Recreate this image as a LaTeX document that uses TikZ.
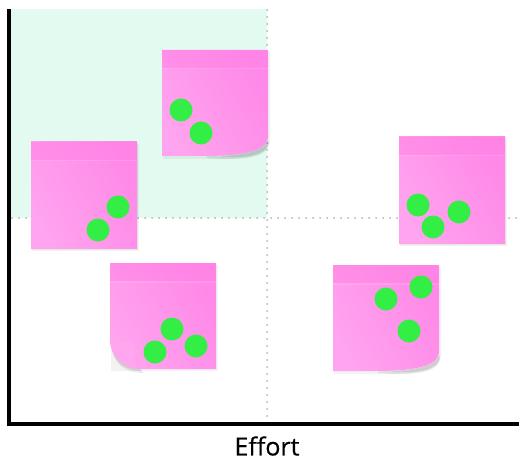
\documentclass[tikz,border=0pt]{standalone}
\usepackage{fontspec}
\setmainfont{Open Sans}
\definecolor{mint}{HTML}{E2FAF0}
\definecolor{pinkL}{HTML}{FFA4EE}
\definecolor{pinkD}{HTML}{FF88E8}
\definecolor{pinkBand}{HTML}{FF80E4}
\definecolor{pinkFold}{HTML}{FFA6EF}
\definecolor{dotgreen}{HTML}{33EE44}
\tikzset{
  notebody/.style={left color=pinkL, right color=pinkD, shading angle=120},
  band/.style={fill=pinkBand, fill opacity=0.45},
  greendot/.style={fill=dotgreen},
  guide/.style={gray!60, line width=2pt, dash pattern=on 0pt off 7pt, line cap=round},
  axisline/.style={line width=3.6pt, black},
  softshadow/.style={fill=black, fill opacity=0.05},
}
\newcommand\flatnote[2]{%
  \begin{scope}[shift={(#1,#2)}]
    \fill[softshadow] (1,2) rectangle (108,109);
    \fill[softshadow] (0,1) rectangle (107,107.5);
    \shade[notebody] (0,0) rectangle (106,106);
    \fill[band] (0,0) rectangle (106,18);
    \fill[white, fill opacity=0.12] (0,18) rectangle (106,19.5);
  \end{scope}}
\newcommand\brnote[2]{%
  \begin{scope}[shift={(#1,#2)}]
    \fill[softshadow] (1,2) -- (108,2) -- (108,92) .. controls (106,106) and (80,110) .. (40,109) -- (1,109) -- cycle;
    \fill[black, fill opacity=0.08] (45,106) .. controls (80,106) and (104,102) .. (106,88) -- (107,94) .. controls (105,108) and (80,111) .. (45,108) -- cycle;
    \fill[black, fill opacity=0.08] (60,106) .. controls (85,105) and (104,100) .. (106,90) -- (106.5,93) .. controls (104,106) and (85,108) .. (60,107) -- cycle;
    \shade[notebody] (0,0) -- (106,0) -- (106,88) .. controls (104,102) and (80,106) .. (40,106) -- (0,106) -- cycle;
    \fill[band] (0,0) rectangle (106,18);
    \fill[white, fill opacity=0.12] (0,18) rectangle (106,19.5);
  \end{scope}}
\newcommand\blnote[2]{%
  \begin{scope}[shift={(#1,#2)}]
    \fill[softshadow] (1,2) rectangle (108,108);
    \fill[black, fill opacity=0.08] (1,82) .. controls (3,100) and (14,110) .. (34,110) -- (30,106) .. controls (14,104) and (4,96) .. (1,82) -- cycle;
    \fill[black, fill opacity=0.08] (2,86) .. controls (5,100) and (14,107) .. (32,108) -- (30,106) .. controls (14,104) and (4,96) .. (2,86) -- cycle;
    \shade[notebody] (0,0) -- (106,0) -- (106,106) -- (28,106) .. controls (12,104) and (3,95) .. (0,80) -- cycle;
    \fill[band] (0,0) rectangle (106,18);
    \fill[white, fill opacity=0.12] (0,18) rectangle (106,19.5);
    \fill[pinkFold] (0,80) -- (23,78) -- (27,105) .. controls (12,103) and (3,94) .. (0,80) -- cycle;
  \end{scope}}
\begin{document}
\begin{tikzpicture}[x=1pt,y=-1pt]
  \useasboundingbox (0,0) rectangle (521,462);
  % quadrant background
  \fill[mint] (9,9) rectangle (267,218);
  % guide lines
  \draw[guide] (267,10) -- (267,418);
  \draw[guide] (12,218) -- (519,218);
  % axes
  \coordinate (top) at (9,9);
  \coordinate (origin) at (9,424);
  \coordinate (right) at (519,424);
  \draw[axisline] (top) -- (origin) -- (right);
  % notes
  \brnote{162}{50}
  \flatnote{31}{142}
  \blnote{110}{263}
  \brnote{333}{265}
  \flatnote{399}{137}
  % dots
  \foreach \p in {(181,110),(201,133),(118,207),(98,230),(172,329),(196,346),(155,352),(421,287),(386,299),(409,331),(418,205),(433,227),(459,212)}
    \fill[greendot] \p circle (11.5);
  % label
  \node[inner sep=0pt, font=\fontsize{25}{28}\selectfont\addfontfeatures{FakeBold=0.5}] (effort) at (267,446) {Effort};
\end{tikzpicture}
\end{document}
